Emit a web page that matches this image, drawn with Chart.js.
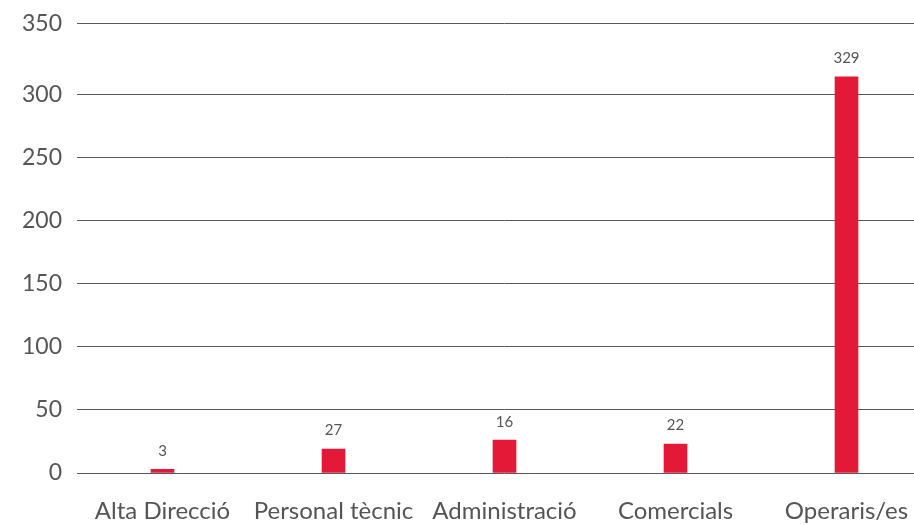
<!DOCTYPE html>
<html>
<head>
<meta charset="utf-8">
<script src="https://cdn.jsdelivr.net/npm/chart.js@4"></script>
<style>
  html, body { margin: 0; padding: 0; background: #fff; overflow: hidden; }
  #wrap { position: absolute; left: 0; top: 0; width: 940px; height: 525px; }
</style>
</head>
<body>
<div id="wrap"><canvas id="chart"></canvas></div>
<script>
// data
const categories = ['Alta Direcció', 'Personal tècnic', 'Administració', 'Comercials', 'Operaris/es']
const barValues = [3, 19, 26, 23, 314]
const valueLabels = ['3', '27', '16', '22', '329']
const yTickValues = [0, 50, 100, 150, 200, 250, 300, 356]
const yTickLabels = ['0', '50', '100', '150', '200', '250', '300', '350']

const textColor = '#555555'
const fontFamily = 'Lato, "Open Sans", sans-serif'

// labels above bars
const barLabels = {
  id: 'barLabels',
  afterDatasetsDraw(chart) {
    const ctx = chart.ctx
    const meta = chart.getDatasetMeta(0)
    ctx.save()
    ctx.font = '15px ' + fontFamily
    ctx.fillStyle = textColor
    ctx.textAlign = 'center'
    ctx.textBaseline = 'bottom'
    meta.data.forEach((bar, i) => {
      ctx.fillText(valueLabels[i], bar.x, bar.y - 11)
    })
    ctx.restore()
  }
}

new Chart(document.getElementById('chart'), {
  type: 'bar',
  data: {
    labels: categories,
    datasets: [{
      data: barValues,
      backgroundColor: '#E31937',
      barThickness: 23
    }]
  },
  options: {
    responsive: true,
    maintainAspectRatio: false,
    animation: false,
    layout: { padding: { top: 0, right: 8, bottom: 0, left: 7 } },
    plugins: { legend: { display: false }, tooltip: { enabled: false } },
    scales: {
      x: {
        grid: { display: false, drawTicks: false },
        border: { display: false },
        ticks: { color: textColor, font: { family: fontFamily, size: 24 }, padding: 24, maxRotation: 0, autoSkip: false },
        afterFit(scale) { scale.height = 52 }
      },
      y: {
        min: 0,
        max: yTickValues[yTickValues.length - 1],
        afterBuildTicks(scale) {
          scale.ticks = yTickValues.map(v => ({ value: v }))
        },
        afterFit(scale) { scale.paddingTop = Math.max(0, scale.paddingTop - 5) },
        grid: { color: '#595959', lineWidth: 1, drawTicks: false },
        border: { display: false },
        ticks: {
          color: textColor,
          font: { family: fontFamily, size: 23 },
          padding: 15,
          callback: (v) => yTickLabels[yTickValues.indexOf(v)]
        }
      }
    }
  },
  plugins: [barLabels]
})
</script>
</body>
</html>
